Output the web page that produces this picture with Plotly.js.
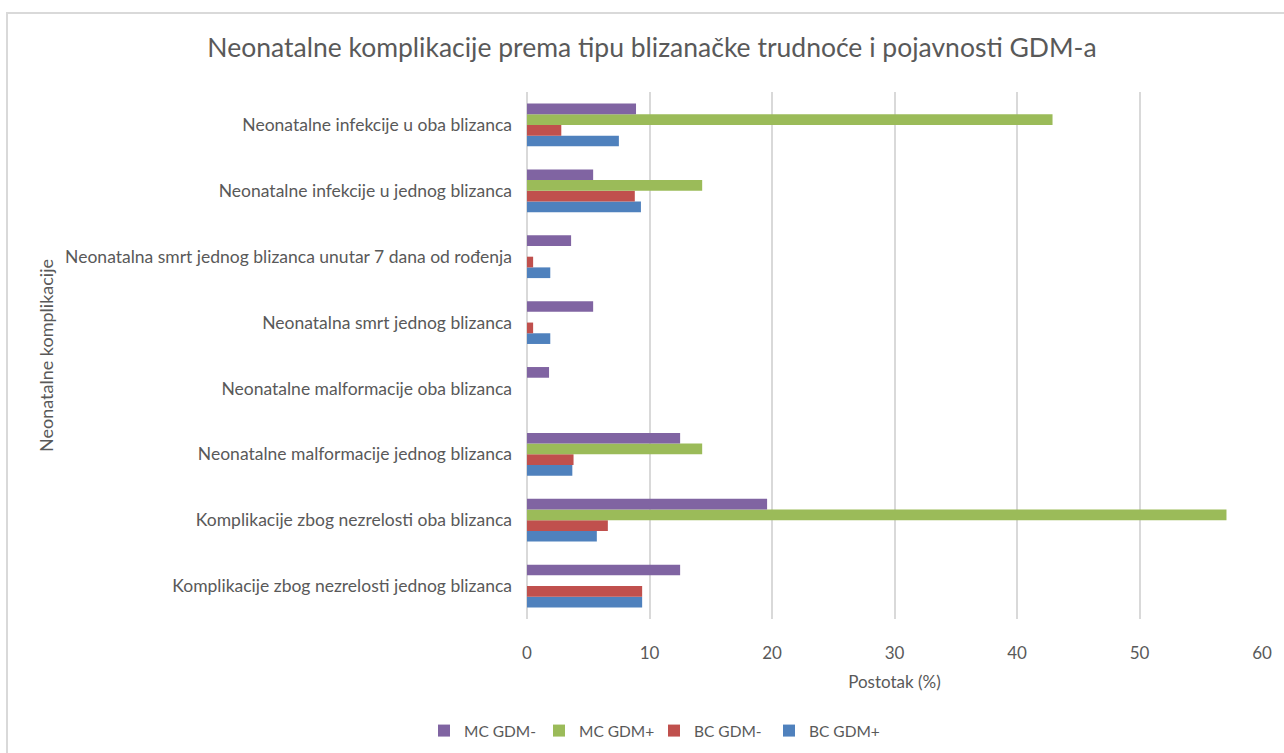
<!DOCTYPE html>
<html>
<head>
<meta charset="utf-8">
<script src="https://cdn.plot.ly/plotly-3.0.1.min.js"></script>
<style>
  html, body { margin: 0; padding: 0; overflow: hidden; background: #fff; }
  #frame { position: absolute; left: 6px; top: 12px; width: 1300px; height: 800px; border: 2px solid #d9d9d9; box-sizing: border-box; pointer-events: none; z-index: 5; }
  #chart { position: absolute; left: 0; top: 0; width: 1284px; height: 753px; }
</style>
</head>
<body>
<div id="chart"></div>
<div id="frame"></div>
<script>
// Categories, bottom to top (as drawn on the y axis)
const categories = [
  "Komplikacije zbog nezrelosti jednog blizanca",
  "Komplikacije zbog nezrelosti oba blizanca",
  "Neonatalne malformacije jednog blizanca",
  "Neonatalne malformacije oba blizanca",
  "Neonatalna smrt jednog blizanca",
  "Neonatalna smrt jednog blizanca unutar 7 dana od rođenja",
  "Neonatalne infekcije u jednog blizanca",
  "Neonatalne infekcije u oba blizanca"
];
const seriesNames = ["MC GDM-", "MC GDM+", "BC GDM-", "BC GDM+"];
const mcGdmMinus = [12.5, 19.6, 12.5, 1.8, 5.4, 3.6, 5.4, 8.9];
const mcGdmPlus  = [0, 57.1, 14.3, 0, 0, 0, 14.3, 42.9];
const bcGdmMinus = [9.4, 6.6, 3.8, 0, 0.5, 0.5, 8.8, 2.8];
const bcGdmPlus  = [9.4, 5.7, 3.7, 0, 1.9, 1.9, 9.3, 7.5];
const xTickVals = [0, 10, 20, 30, 40, 50, 60];

const colors = {"MC GDM-": "#8064A2", "MC GDM+": "#9BBB59", "BC GDM-": "#C0504D", "BC GDM+": "#4F81BD"};
const values = {"MC GDM-": mcGdmMinus, "MC GDM+": mcGdmPlus, "BC GDM-": bcGdmMinus, "BC GDM+": bcGdmPlus};

// Plotly stacks grouped horizontal bars bottom-up, so add in reverse order
const traces = seriesNames.slice().reverse().map(name => ({
  type: "bar",
  orientation: "h",
  name: name,
  y: categories,
  x: values[name],
  marker: {color: colors[name], line: {width: 0}},
  hoverinfo: "x+name"
}));

const font = "Lato, 'Open Sans', sans-serif";
const layout = {
  width: 1284, height: 753,
  margin: {l: 527, r: 22, t: 92, b: 134, autoexpand: false},
  paper_bgcolor: "#ffffff",
  plot_bgcolor: "#ffffff",
  barmode: "group",
  bargap: 0.35,
  bargroupgap: 0,
  font: {family: font, color: "#595959", size: 17},
  title: {
    text: "Neonatalne komplikacije prema tipu blizanačke trudnoće i pojavnosti GDM-a",
    font: {family: font, size: 26.5, color: "#595959"},
    x: 652 / 1284, xanchor: "center", xref: "container",
    y: 1 - 48 / 753, yanchor: "middle", yref: "container"
  },
  xaxis: {
    range: [0, 60],
    tickvals: xTickVals,
    ticktext: xTickVals.map(String),
    showgrid: true, gridcolor: "#d9d9d9", gridwidth: 2,
    zeroline: true, zerolinecolor: "#d9d9d9", zerolinewidth: 2,
    showline: false, ticks: "",
    ticklabelstandoff: 22,
    tickfont: {family: font, size: 17, color: "#595959"},
    title: {text: "Postotak (%)", font: {family: font, size: 17, color: "#595959"}, standoff: 14},
    automargin: false,
    fixedrange: true
  },
  yaxis: {
    type: "category",
    categoryorder: "array",
    categoryarray: categories,
    showgrid: false, zeroline: false, showline: false, ticks: "",
    ticklabelstandoff: 14,
    tickfont: {family: font, size: 17.5, color: "#595959"},
    title: {text: "Neonatalne komplikacije", font: {family: font, size: 18, color: "#595959"}, standoff: 6},
    automargin: false,
    fixedrange: true
  },
  showlegend: true,
  legend: {
    orientation: "h",
    traceorder: "reversed",
    x: (654 - 527) / 735, xanchor: "center",
    y: (619 - 731) / 527, yanchor: "middle",
    font: {family: font, size: 15.5, color: "#595959"},
    itemwidth: 30,
    entrywidth: 70,
    entrywidthmode: "pixels",
    bgcolor: "rgba(0,0,0,0)"
  }
};

Plotly.newPlot("chart", traces, layout, {displayModeBar: false, staticPlot: false});
</script>
</body>
</html>
